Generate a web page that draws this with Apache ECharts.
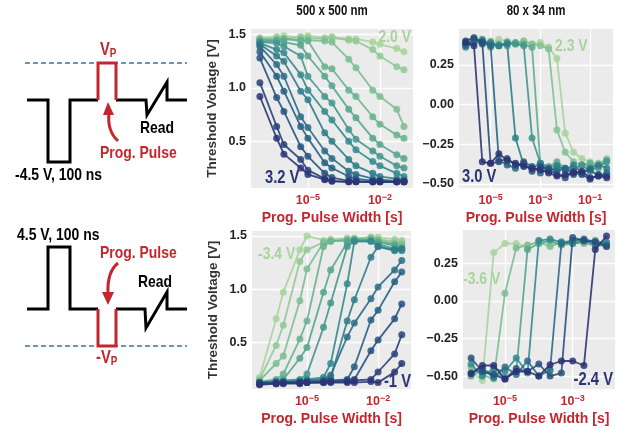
<!DOCTYPE html>
<html><head><meta charset="utf-8">
<script src="https://cdn.jsdelivr.net/npm/echarts@6/dist/echarts.min.js"></script>
<style>html,body{margin:0;padding:0;background:#fff}#c{width:628px;height:430px}</style>
</head><body><div id="c"></div>
<script>
// ---------- data ----------
const FF = "'Liberation Sans',Arial,sans-serif";
// pulse widths [s]
const widthsA = [1e-7,5e-7,1e-6,5e-6,1e-5,5e-5,1e-4,5e-4,1e-3,5e-3,1e-2,5e-2,1e-1];
const widthsB = [1e-6,2.15e-6,4.64e-6,1e-5,2.15e-5,4.64e-5,1e-4,2.15e-4,4.64e-4,1e-3,2.15e-3,4.64e-3,1e-2,2.15e-2,4.64e-2,1e-1,2.15e-1,4.64e-1];
const widthsD = [1e-6,2.15e-6,4.64e-6,1e-5,2.15e-5,4.64e-5,1e-4,2.15e-4,4.64e-4,1e-3,2.15e-3,4.64e-3,1e-2];

// Panel 1: 500x500 nm, positive Vp (2.0 V ... 3.2 V)
const p1Volts = ['2.0 V','2.1 V','2.2 V','2.3 V','2.4 V','2.5 V','2.6 V','2.7 V','2.8 V','2.9 V','3.0 V','3.1 V','3.2 V'];
const p1Vals = [
 [1.47,1.48,1.49,1.47,1.49,1.47,1.48,1.46,1.46,1.43,1.41,1.37,1.34],
 [1.46,1.47,1.46,1.48,1.47,1.46,1.47,1.45,1.44,1.36,1.30,1.20,1.17],
 [1.46,1.45,1.46,1.44,1.45,1.44,1.43,1.27,1.19,0.98,0.92,0.80,0.64],
 [1.45,1.45,1.46,1.45,1.44,1.20,1.18,0.98,0.92,0.73,0.66,0.56,0.53],
 [1.44,1.44,1.43,1.40,1.30,1.11,1.02,0.80,0.72,0.53,0.47,0.375,0.34],
 [1.43,1.42,1.39,1.30,1.11,0.92,0.86,0.61,0.52,0.41,0.36,0.27,0.25],
 [1.42,1.36,1.33,1.125,0.98,0.78,0.70,0.50,0.42,0.31,0.27,0.20,0.17],
 [1.41,1.30,1.25,0.97,0.89,0.58,0.50,0.33,0.27,0.20,0.17,0.15,0.14],
 [1.39,1.22,1.11,0.73,0.63,0.41,0.34,0.22,0.19,0.15,0.14,0.13,0.13],
 [1.34,1.11,0.97,0.64,0.53,0.30,0.25,0.17,0.15,0.13,0.13,0.12,0.12],
 [1.28,0.91,0.78,0.45,0.36,0.20,0.16,0.13,0.13,0.12,0.12,0.12,0.12],
 [1.05,0.64,0.47,0.33,0.23,0.15,0.13,0.12,0.12,0.12,0.12,0.12,0.12],
 [0.92,0.53,0.38,0.25,0.19,0.14,0.125,0.12,0.12,0.12,0.12,0.12,0.12]
];
// Panel 2: 80x34 nm, positive Vp (2.3 V ... 3.0 V)
const p2Volts = ['2.3 V','2.4 V','2.5 V','2.6 V','2.7 V','2.8 V','2.9 V','3.0 V'];
const p2Vals = [
 [0.40,0.42,0.40,0.38,0.41,0.40,0.39,0.40,0.38,0.39,0.36,0.29,-0.18,-0.30,-0.34,-0.36,-0.38,-0.34],
 [0.39,0.41,0.38,0.40,0.37,0.39,0.38,0.40,0.38,0.37,0.35,-0.16,-0.30,-0.36,-0.38,-0.39,-0.37,-0.35],
 [0.38,0.40,0.39,0.36,0.38,0.37,0.39,0.38,0.36,-0.37,-0.39,-0.36,-0.40,-0.42,-0.38,-0.37,-0.40,-0.35],
 [0.36,0.39,0.41,0.38,0.37,0.39,0.38,0.37,-0.21,-0.37,-0.40,-0.38,-0.41,-0.40,-0.38,-0.42,-0.39,-0.36],
 [0.38,0.40,0.38,0.39,0.37,0.38,-0.21,-0.38,-0.40,-0.37,-0.42,-0.39,-0.41,-0.38,-0.43,-0.40,-0.38,-0.40],
 [0.37,0.41,0.40,0.37,-0.35,-0.38,-0.40,-0.36,-0.39,-0.43,-0.40,-0.42,-0.40,-0.44,-0.43,-0.41,-0.45,-0.43],
 [0.40,0.42,0.39,-0.37,-0.36,-0.34,-0.38,-0.37,-0.42,-0.39,-0.41,-0.44,-0.46,-0.42,-0.44,-0.47,-0.44,-0.45],
 [0.39,0.37,-0.36,-0.37,-0.31,-0.35,-0.37,-0.39,-0.40,-0.41,-0.43,-0.45,-0.44,-0.43,-0.42,-0.46,-0.45,-0.46]
];
// Panel 3: 500x500 nm, negative Vp (-3.4 V ... -1 V)
const p3Volts = ['-3.4 V','-3.2 V','-3.0 V','-2.8 V','-2.6 V','-2.4 V','-2.2 V','-2.0 V','-1.8 V','-1.6 V','-1.4 V','-1.2 V','-1 V'];
const p3Vals = [
 [0.17,0.72,0.97,1.37,1.50,1.46,1.47,1.48,1.48,1.49,1.49,1.47,1.46],
 [0.15,0.47,0.66,1.26,1.37,1.44,1.46,1.47,1.47,1.48,1.47,1.45,1.44],
 [0.14,0.30,0.37,0.89,1.19,1.44,1.45,1.46,1.47,1.48,1.46,1.43,1.42],
 [0.13,0.15,0.20,0.53,0.70,1.40,1.45,1.46,1.47,1.46,1.45,1.42,1.40],
 [0.12,0.14,0.15,0.35,0.45,0.97,1.18,1.44,1.46,1.46,1.44,1.41,1.38],
 [0.12,0.13,0.14,0.15,0.20,0.64,0.87,1.40,1.45,1.45,1.42,1.38,1.36],
 [0.12,0.13,0.13,0.14,0.15,0.17,0.30,1.05,1.45,1.45,1.40,1.36,1.37],
 [0.12,0.12,0.13,0.13,0.14,0.15,0.16,0.70,0.90,1.30,1.40,1.37,1.38],
 [0.12,0.12,0.12,0.13,0.13,0.14,0.19,0.55,0.68,0.91,1.02,1.18,1.27],
 [0.12,0.12,0.12,0.12,0.13,0.13,0.14,0.15,0.27,0.71,0.80,1.07,1.16],
 [0.11,0.12,0.12,0.12,0.12,0.13,0.13,0.14,0.15,0.42,0.52,0.72,0.86],
 [0.11,0.11,0.12,0.12,0.12,0.12,0.13,0.13,0.14,0.15,0.22,0.39,0.57],
 [0.10,0.11,0.11,0.11,0.12,0.12,0.12,0.12,0.12,0.13,0.12,0.22,0.30]
];
// Panel 4: 80x34 nm, negative Vp (-3.6 V ... -2.4 V)
const p4Volts = ['-3.6 V','-3.4 V','-3.2 V','-3.0 V','-2.8 V','-2.6 V','-2.4 V'];
const p4Vals = [
 [-0.47,-0.53,0.32,0.38,0.38,0.36,0.40,0.38,0.38,0.40,0.40,0.40,0.38],
 [-0.44,-0.49,-0.52,0.05,0.35,0.37,0.39,0.36,0.39,0.40,0.38,0.37,0.36],
 [-0.50,-0.46,-0.48,-0.51,-0.47,0.34,0.38,0.40,0.37,0.38,0.39,0.40,0.38],
 [-0.42,-0.50,-0.45,-0.47,-0.38,-0.48,0.40,0.41,0.39,0.38,0.40,0.37,0.39],
 [-0.48,-0.45,-0.51,-0.44,-0.49,-0.40,-0.50,-0.46,0.38,0.40,0.41,0.39,0.37],
 [-0.38,-0.47,-0.49,-0.52,-0.45,-0.47,-0.42,-0.50,-0.48,0.42,0.40,0.39,0.36],
 [-0.485,-0.43,-0.43,-0.52,-0.47,-0.47,-0.50,-0.425,-0.40,-0.40,-0.43,0.34,0.43]
];
const panelTitles = ['500 x 500 nm','80 x 34 nm'];
const xTicksA = [-5,-2];
const xTicksB = [-5,-3,-1];
const xTicksD = [-5,-3];
const yTicksBig = [0.5,1.0,1.5];
const yTicksSmall = [-0.5,-0.25,0,0.25];

// ---------- styling ----------
const RED = '#c3272e';
const SX = 0.82; // narrow-font look for free text
const stops = [[168,212,156],[104,178,143],[52,138,142],[38,95,133],[44,52,116]];
function crest(t){
  const p = t*(stops.length-1); const i = Math.min(Math.floor(p), stops.length-2); const f = p-i;
  const a = stops[i], b = stops[i+1];
  return 'rgb(' + a.map((v,j)=>Math.round(v+(b[j]-v)*f)).join(',') + ')';
}
const chart = echarts.init(document.getElementById('c'), null, {renderer:'canvas'});

const grids = [
  {left:251, top:29, width:162, height:159},
  {left:459, top:29, width:154, height:159},
  {left:252, top:231, width:159, height:158},
  {left:463, top:230, width:152, height:159}
].map(g => Object.assign(g, {show:true, backgroundColor:'#ebebeb', borderWidth:0}));

function xAxis(i, min, max, ticks){
  return {type:'value', gridIndex:i, min:min, max:max,
    name:'Prog. Pulse Width [s]', nameLocation:'middle', nameGap:23,
    nameTextStyle:{color:RED, fontFamily:FF, fontWeight:'bold', fontSize:14},
    axisLine:{show:false}, axisTick:{show:false, customValues:ticks},
    splitLine:{show:true, lineStyle:{color:'#ffffff', width:1.3}},
    axisLabel:{customValues:ticks, margin:5, formatter: v => '{b|10}{s|\u2212' + Math.abs(v) + '}',
      rich:{b:{color:RED, fontFamily:FF, fontWeight:'bold', fontSize:12.5},
            s:{color:RED, fontFamily:FF, fontWeight:'bold', fontSize:9, padding:[0,0,7,0]}}}
  };
}
function yAxis(i, min, max, ticks, titled){
  const fmt = v => { const s = (Math.abs(v) < 1e-9 ? 0 : v).toFixed(ticks[0] === 0.5 ? 1 : 2); return s.replace('-', '\u2212'); };
  return {type:'value', gridIndex:i, min:min, max:max,
    name: titled ? 'Threshold Voltage [V]' : '', nameLocation:'middle', nameGap:32,
    nameTextStyle:{color:'#333', fontFamily:FF, fontWeight:'bold', fontSize:13.5},
    axisLine:{show:false}, axisTick:{show:false, customValues:ticks},
    splitLine:{show:true, lineStyle:{color:'#ffffff', width:1.3}},
    axisLabel:{customValues:ticks, margin:5, formatter:fmt, color:'#222', fontFamily:FF, fontWeight:'bold', fontSize:12.5}
  };
}
const xAxes = [
  xAxis(0, -7.37, -0.625, xTicksA),
  xAxis(1, -6.27, -0.08, xTicksB),
  xAxis(2, -7.32, -0.61, xTicksA),
  xAxis(3, -6.24, -1.75, xTicksD)
];
const yAxes = [
  yAxis(0, 0.0625, 1.553, yTicksBig, true),
  yAxis(1, -0.525, 0.475, yTicksSmall, false),
  yAxis(2, 0.06, 1.547, yTicksBig, true),
  yAxis(3, -0.586, 0.47, yTicksSmall, false)
];

const series = [];
function addPanel(idx, widths, vals, names){
  const n = vals.length;
  vals.forEach((row, j) => {
    const col = crest(n === 1 ? 0 : j/(n-1));
    series.push({type:'line', name:names[j], xAxisIndex:idx, yAxisIndex:idx,
      data: row.map((v,k) => [Math.log10(widths[k]), v]),
      symbol:'circle', symbolSize:7, showSymbol:true,
      lineStyle:{color:col, width:1.8, opacity:0.9},
      itemStyle:{color:col, opacity:0.85}, z:2+j, animation:false, silent:true});
  });
}
addPanel(0, widthsA, p1Vals, p1Volts);
addPanel(1, widthsB, p2Vals, p2Volts);
addPanel(2, widthsA, p3Vals, p3Volts);
addPanel(3, widthsD, p4Vals, p4Volts);

const LIGHT = crest(0), DARK = crest(1);
function txt(x, y, s, color, size, align){
  return {type:'text', x:x, y:y, scaleX:SX, z:50, style:{text:s, fill:color, font:'bold ' + size + 'px ' + FF, textAlign:align||'left', textVerticalAlign:'middle'}};
}
const graphic = [
  // panel annotations
  txt(411, 37, p1Volts[0], LIGHT, 17, 'right'),
  txt(265, 178, p1Volts[p1Volts.length-1], DARK, 18),
  txt(555, 46, p2Volts[0], LIGHT, 17),
  txt(462, 177, p2Volts[p2Volts.length-1], DARK, 18),
  txt(258, 254, p3Volts[0], LIGHT, 17),
  txt(411, 382, p3Volts[p3Volts.length-1], DARK, 18, 'right'),
  txt(463, 279, p4Volts[0], LIGHT, 17),
  txt(613, 380, p4Volts[p4Volts.length-1], DARK, 18, 'right'),
  // column titles
  txt(332, 11, panelTitles[0], '#111', 14, 'center'),
  txt(536, 11, panelTitles[1], '#111', 14, 'center'),
  // ---- top schematic ----
  {type:'line', shape:{x1:25,y1:63,x2:187,y2:63}, style:{stroke:'#3f6f97', lineWidth:1.5, lineDash:[5,3]}},
  {type:'polyline', shape:{points:[[27,100],[48,100],[48,162],[70,162],[70,100],[98,100]]}, style:{stroke:'#000', lineWidth:3, fill:null}},
  {type:'polyline', shape:{points:[[116,100],[146,100],[147,115],[167,82],[167,100],[187,100]]}, style:{stroke:'#000', lineWidth:3, fill:null}},
  {type:'polyline', shape:{points:[[98,100],[98,63],[116,63],[116,100]]}, style:{stroke:RED, lineWidth:3, fill:null}},
  {type:'text', x:100, y:50, scaleX:SX, style:{rich:{v:{fill:RED, font:'bold 18px ' + FF}, p:{fill:RED, font:'bold 12px ' + FF, padding:[7,0,0,0]}}, text:'{v|V}{p|P}', textVerticalAlign:'middle'}},
  {type:'bezierCurve', shape:{x1:118,y1:141,cpx1:107,cpy1:131,x2:109,y2:113}, style:{stroke:RED, lineWidth:3, fill:null}},
  {type:'polygon', shape:{points:[[108,102],[103,115],[114,115]]}, style:{fill:RED}},
  txt(140, 128, 'Read', '#000', 17),
  txt(100, 153, 'Prog. Pulse', RED, 17),
  txt(15, 175, '-4.5 V, 100 ns', '#000', 17),
  // ---- bottom schematic ----
  {type:'line', shape:{x1:25,y1:346,x2:187,y2:346}, style:{stroke:'#3f6f97', lineWidth:1.5, lineDash:[5,3]}},
  {type:'polyline', shape:{points:[[27,309],[48,309],[48,247],[70,247],[70,309],[98,309]]}, style:{stroke:'#000', lineWidth:3, fill:null}},
  {type:'polyline', shape:{points:[[116,309],[145,309],[146,328],[167,292],[167,309],[187,309]]}, style:{stroke:'#000', lineWidth:3, fill:null}},
  {type:'polyline', shape:{points:[[98,309],[98,346],[116,346],[116,309]]}, style:{stroke:RED, lineWidth:3, fill:null}},
  {type:'bezierCurve', shape:{x1:118,y1:263,cpx1:107,cpy1:272,x2:108,y2:293}, style:{stroke:RED, lineWidth:3, fill:null}},
  {type:'polygon', shape:{points:[[108,305],[102,292],[114,292]]}, style:{fill:RED}},
  txt(17, 235, '4.5 V, 100 ns', '#000', 17),
  txt(100, 253, 'Prog. Pulse', RED, 17),
  txt(138, 282, 'Read', '#000', 17),
  {type:'text', x:96, y:358, scaleX:SX, style:{rich:{v:{fill:RED, font:'bold 18px ' + FF}, p:{fill:RED, font:'bold 12px ' + FF, padding:[7,0,0,0]}}, text:'{v|-V}{p|P}', textVerticalAlign:'middle'}}
];

chart.setOption({
  animation:false,
  grid: grids, xAxis: xAxes, yAxis: yAxes, series: series, graphic: graphic
});
</script></body></html>
